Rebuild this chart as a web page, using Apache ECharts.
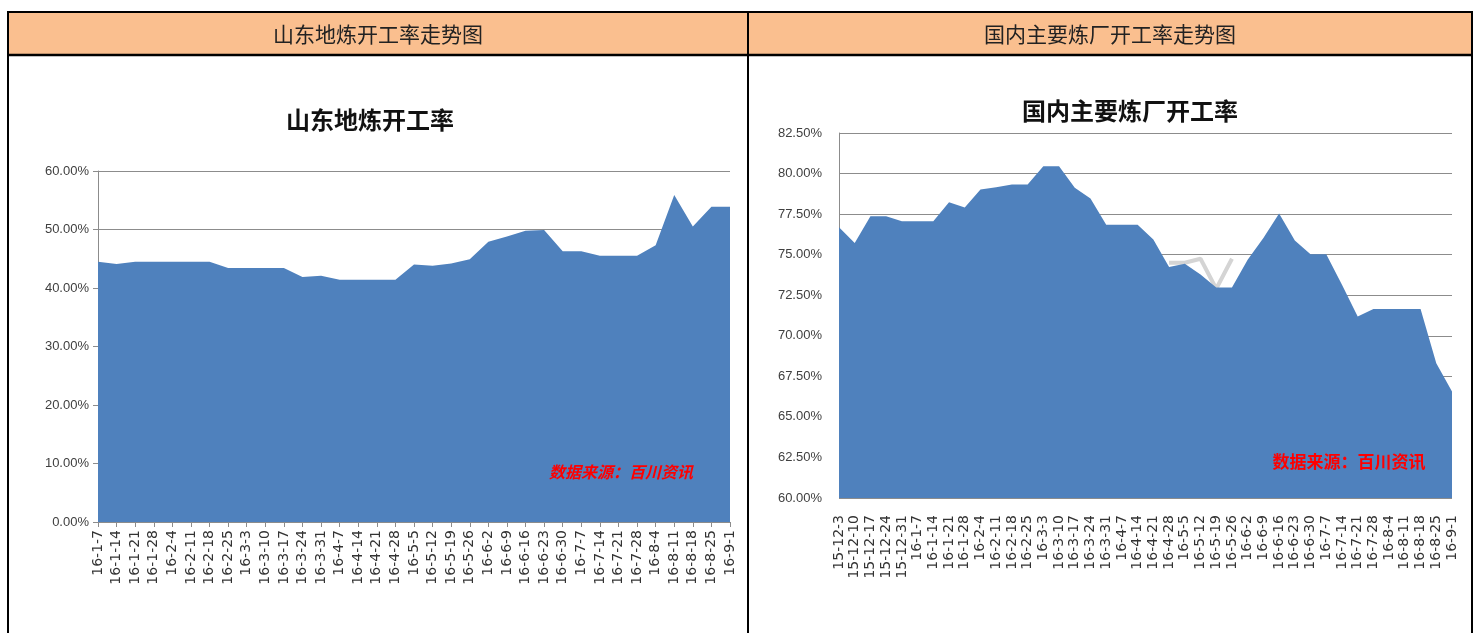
<!DOCTYPE html>
<html>
<head>
<meta charset="utf-8">
<script src="https://cdn.jsdelivr.net/npm/echarts@6.0.0/dist/echarts.min.js"></script>
<style>
  html, body { margin: 0; padding: 0; background: #fff; }
  #chart { width: 1478px; height: 633px; }
</style>
</head>
<body>
<div id="chart"></div>
<script>
// 山东地炼开工率 (weekly)
const sdDates = ['16-1-7', '16-1-14', '16-1-21', '16-1-28', '16-2-4', '16-2-11', '16-2-18', '16-2-25',
  '16-3-3', '16-3-10', '16-3-17', '16-3-24', '16-3-31', '16-4-7', '16-4-14', '16-4-21', '16-4-28',
  '16-5-5', '16-5-12', '16-5-19', '16-5-26', '16-6-2', '16-6-9', '16-6-16', '16-6-23', '16-6-30',
  '16-7-7', '16-7-14', '16-7-21', '16-7-28', '16-8-4', '16-8-11', '16-8-18', '16-8-25', '16-9-1'];
const sdRates = [44.5, 44.1, 44.5, 44.5, 44.5, 44.5, 44.5, 43.4, 43.4, 43.4, 43.4, 41.9, 42.1,
  41.4, 41.4, 41.4, 41.4, 44.0, 43.8, 44.2, 44.9, 47.9, 48.8, 49.8, 49.9, 46.3, 46.3,
  45.5, 45.5, 45.5, 47.3, 55.9, 50.5, 53.9, 53.9];

// 国内主要炼厂开工率 (weekly)
const gnDates = ['15-12-3', '15-12-10', '15-12-17', '15-12-24', '15-12-31', '16-1-7', '16-1-14', '16-1-21',
  '16-1-28', '16-2-4', '16-2-11', '16-2-18', '16-2-25', '16-3-3', '16-3-10', '16-3-17', '16-3-24',
  '16-3-31', '16-4-7', '16-4-14', '16-4-21', '16-4-28', '16-5-5', '16-5-12', '16-5-19', '16-5-26',
  '16-6-2', '16-6-9', '16-6-16', '16-6-23', '16-6-30', '16-7-7', '16-7-14', '16-7-21', '16-7-28',
  '16-8-4', '16-8-11', '16-8-18', '16-8-25', '16-9-1'];
const gnRates = [76.69, 75.72, 77.37, 77.37, 77.06, 77.06, 77.06, 78.23, 77.90, 79.01,
  79.16, 79.32, 79.32, 80.45, 80.45, 79.12, 78.46, 76.85, 76.85, 76.85,
  75.93, 74.24, 74.44, 73.77, 72.98, 72.98, 74.69, 76.03, 77.53, 75.88,
  75.02, 75.02, 73.15, 71.19, 71.65, 71.65, 71.65, 71.65, 68.31, 66.56];
// grey line mostly hidden behind the area, only peeks out in May
const gnGrey = [null, null, null, null, null, null, null, null, null, null,
  null, null, null, null, null, null, null, null, null, null,
  null, 74.5, 74.5, 74.75, 72.9, 74.75, null, null, null, null,
  null, null, null, null, null, null, null, null, null, null];

const headers = ['山东地炼开工率走势图', '国内主要炼厂开工率走势图'];
const titles = ['山东地炼开工率', '国内主要炼厂开工率'];
const sourceNote = '数据来源：百川资讯';

const blue = '#4F81BD';
const gridGrey = '#8c8c8c';
const labelFont = 'Liberation Sans, Arial, sans-serif';
const tickFont = 'DejaVu Sans, sans-serif';
const cjkFont = '"Noto Sans CJK SC", sans-serif';

const chart = echarts.init(document.getElementById('chart'));

const pct = v => v.toFixed(2) + '%';

const option = {
  animation: false,
  grid: [
    { left: 98, right: 748, top: 171, bottom: 111 },
    { left: 839, right: 26, top: 133, bottom: 135 }
  ],
  xAxis: [
    {
      gridIndex: 0, type: 'category', data: sdDates, boundaryGap: false,
      axisLine: { lineStyle: { color: gridGrey } },
      axisTick: { show: true, length: 5, interval: 0, lineStyle: { color: gridGrey } },
      axisLabel: { interval: 0, rotate: 90, margin: 8, fontSize: 14, color: '#333', fontFamily: tickFont }
    },
    {
      gridIndex: 1, type: 'category', data: gnDates, boundaryGap: false,
      axisLine: { show: false },
      axisTick: { show: false },
      axisLabel: { interval: 0, rotate: 90, margin: 17, fontSize: 14, color: '#333', fontFamily: tickFont }
    }
  ],
  yAxis: [
    {
      gridIndex: 0, type: 'value', min: 0, max: 60, interval: 10,
      axisLine: { show: true, lineStyle: { color: gridGrey } },
      axisTick: { show: true, length: 5, lineStyle: { color: gridGrey } },
      splitLine: { lineStyle: { color: gridGrey, width: 1.2 } },
      axisLabel: { formatter: pct, fontSize: 13, color: '#404040', margin: 9, fontFamily: labelFont }
    },
    {
      gridIndex: 1, type: 'value', min: 60, max: 82.5, interval: 2.5,
      axisLine: { show: true, lineStyle: { color: gridGrey } },
      axisTick: { show: false },
      splitLine: { lineStyle: { color: gridGrey, width: 1.2 } },
      axisLabel: { formatter: pct, fontSize: 13, color: '#404040', margin: 17, fontFamily: labelFont }
    }
  ],
  series: [
    {
      name: '山东地炼开工率', type: 'line', xAxisIndex: 0, yAxisIndex: 0, data: sdRates,
      showSymbol: false, lineStyle: { width: 0 },
      areaStyle: { color: blue, opacity: 1, origin: 'start' }, z: 3
    },
    {
      name: 'grey', type: 'line', xAxisIndex: 1, yAxisIndex: 1, data: gnGrey,
      showSymbol: false, connectNulls: false,
      lineStyle: { width: 4, color: '#d4d4d4' }, z: 2
    },
    {
      name: '国内主要炼厂开工率', type: 'line', xAxisIndex: 1, yAxisIndex: 1, data: gnRates,
      showSymbol: false, lineStyle: { width: 0 },
      areaStyle: { color: blue, opacity: 1, origin: 'start' }, z: 3
    }
  ],
  graphic: [
    // header band and table borders
    { type: 'rect', shape: { x: 8, y: 12, width: 1464, height: 43 }, style: { fill: '#FABF8F' }, z: 0 },
    { type: 'rect', shape: { x: 8, y: 12, width: 1464, height: 640 }, style: { fill: 'none', stroke: '#000', lineWidth: 2 }, z: 10 },
    { type: 'line', shape: { x1: 8, y1: 55, x2: 1472, y2: 55 }, style: { stroke: '#000', lineWidth: 2.5 }, z: 10 },
    { type: 'line', shape: { x1: 748, y1: 12, x2: 748, y2: 633 }, style: { stroke: '#000', lineWidth: 2 }, z: 10 },
    {
      type: 'text', x: 378, y: 34, z: 10,
      style: { text: headers[0], font: '21px ' + cjkFont, fill: '#222', align: 'center', verticalAlign: 'middle', textAlign: 'center', textVerticalAlign: 'middle' }
    },
    {
      type: 'text', x: 1110, y: 34, z: 10,
      style: { text: headers[1], font: '21px ' + cjkFont, fill: '#222', align: 'center', verticalAlign: 'middle', textAlign: 'center', textVerticalAlign: 'middle' }
    },
    // chart titles
    {
      type: 'text', x: 370, y: 120, z: 10,
      style: { text: titles[0], font: 'bold 24px ' + cjkFont, fill: '#111', align: 'center', verticalAlign: 'middle', textAlign: 'center', textVerticalAlign: 'middle' }
    },
    {
      type: 'text', x: 1130, y: 111, z: 10,
      style: { text: titles[1], font: 'bold 24px ' + cjkFont, fill: '#111', align: 'center', verticalAlign: 'middle', textAlign: 'center', textVerticalAlign: 'middle' }
    },
    // source notes
    {
      type: 'text', x: 621, y: 472, z: 10,
      style: { text: sourceNote, font: 'italic bold 16px ' + cjkFont, fill: '#ff0000', align: 'center', verticalAlign: 'middle', textAlign: 'center', textVerticalAlign: 'middle' }
    },
    {
      type: 'text', x: 1349, y: 462, z: 10,
      style: { text: sourceNote, font: 'bold 17px ' + cjkFont, fill: '#ff0000', align: 'center', verticalAlign: 'middle', textAlign: 'center', textVerticalAlign: 'middle' }
    }
  ]
};

chart.setOption(option);
</script>
</body>
</html>
